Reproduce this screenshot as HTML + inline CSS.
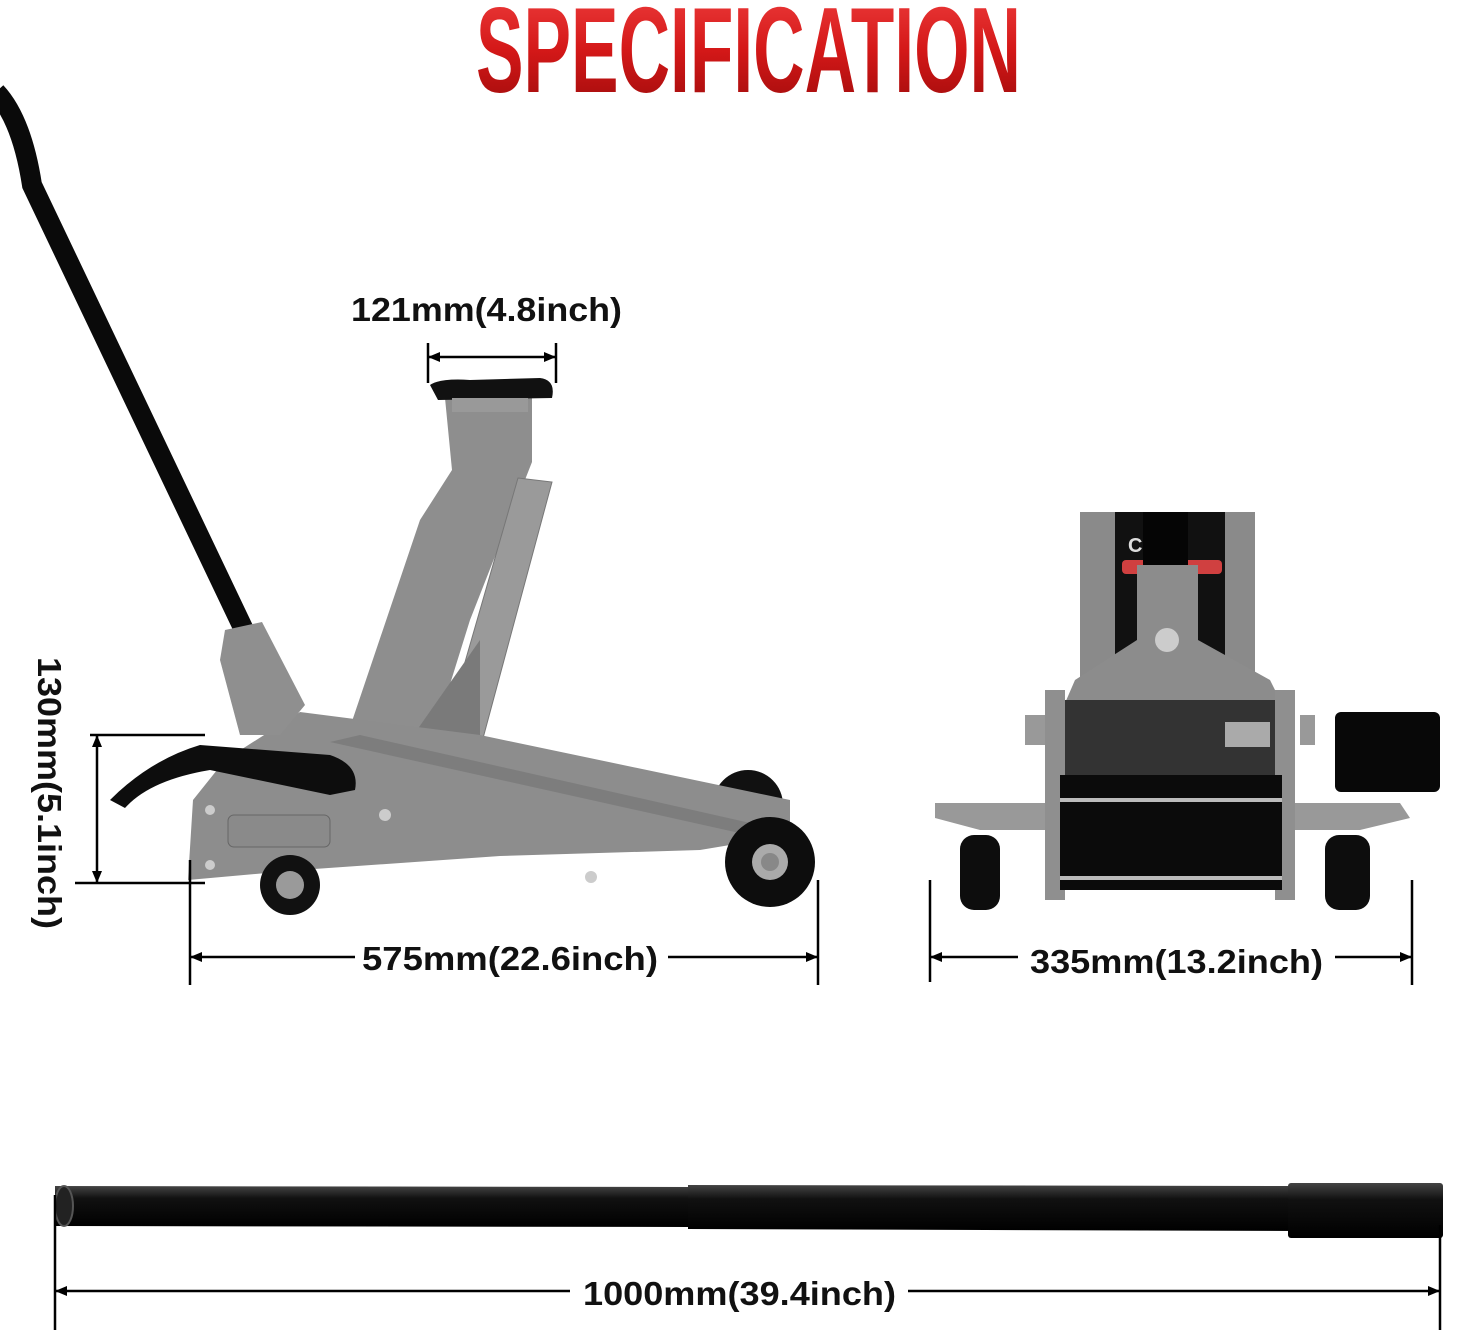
<!DOCTYPE html>
<html><head><meta charset="utf-8"><style>
html,body{margin:0;padding:0;background:#fff;}
svg{display:block;}
text{font-family:"Liberation Sans",sans-serif;font-weight:bold;}
</style></head><body>
<svg width="1469" height="1332" viewBox="0 0 1469 1332" xmlns="http://www.w3.org/2000/svg">
<defs>
<linearGradient id="red" x1="0" y1="0" x2="0" y2="1">
<stop offset="0" stop-color="#f04040"/><stop offset="0.5" stop-color="#d41818"/><stop offset="1" stop-color="#9a0a0a"/>
</linearGradient>
<linearGradient id="bar" x1="0" y1="0" x2="0" y2="1">
<stop offset="0" stop-color="#444"/><stop offset="0.3" stop-color="#111"/><stop offset="1" stop-color="#000"/>
</linearGradient>
</defs>
<rect width="1469" height="1332" fill="#fff"/>
<text x="476" y="92" font-size="122" fill="url(#red)" textLength="545" lengthAdjust="spacingAndGlyphs">SPECIFICATION</text>

<!-- side view jack -->
<path d="M-4,92 Q22,120 32,185 L245,632" stroke="#0a0a0a" stroke-width="20" fill="none"/>
<circle cx="748" cy="805" r="35" fill="#111"/>
<polygon points="445,398 532,398 532,462 470,620 432,742 345,742 420,520 452,470" fill="#8e8e8e"/>
<polygon points="518,478 552,482 482,742 442,742" fill="#9a9a9a" stroke="#777"/>
<polygon points="410,740 480,640 480,740" fill="#7a7a7a"/>
<path d="M430,385 Q440,378 470,380 L540,378 Q556,380 552,398 L438,400 Z" fill="#111"/>
<rect x="452" y="398" width="76" height="14" fill="#999"/>
<polygon points="188,880 193,800 225,760 300,712 480,735 790,800 790,835 700,850 500,856 300,870" fill="#8d8d8d"/>
<polygon points="330,742 360,735 790,832 780,842" fill="#7d7d7d"/>
<polygon points="225,630 262,622 305,705 280,735 240,735 220,660" fill="#8f8f8f"/>
<path d="M110,800 Q150,760 200,745 L330,755 Q360,765 355,790 L330,795 L210,770 Q150,780 125,808 Z" fill="#0d0d0d"/>
<rect x="228" y="815" width="102" height="32" rx="6" fill="#8a8a8a" stroke="#666"/>
<circle cx="290" cy="885" r="30" fill="#111"/><circle cx="290" cy="885" r="14" fill="#9a9a9a"/>
<circle cx="770" cy="862" r="45" fill="#0d0d0d"/><circle cx="770" cy="862" r="18" fill="#aaa"/><circle cx="770" cy="862" r="9" fill="#888"/>
<circle cx="385" cy="815" r="6" fill="#ccc"/><circle cx="210" cy="810" r="5" fill="#ccc"/><circle cx="210" cy="865" r="5" fill="#ccc"/><circle cx="591" cy="877" r="6" fill="#ccc"/>

<!-- front view jack -->
<rect x="1080" y="512" width="175" height="185" fill="#8a8a8a"/>
<rect x="1115" y="512" width="110" height="150" fill="#111"/>
<rect x="1122" y="560" width="100" height="14" rx="4" fill="#d04040"/>
<text x="1128" y="552" font-size="20" fill="#ddd">CE</text>
<rect x="1143" y="512" width="45" height="60" fill="#050505"/>
<polygon points="1137,565 1198,565 1198,640 1270,680 1285,710 1062,710 1075,680 1137,640" fill="#8c8c8c"/>
<circle cx="1167" cy="640" r="12" fill="#ccc"/>
<rect x="1060" y="700" width="225" height="75" fill="#333"/>
<polygon points="935,803 1400,803 1410,818 1360,830 1300,830 1050,830 980,830 935,818" fill="#999"/>
<rect x="1045" y="690" width="20" height="210" fill="#8f8f8f"/>
<rect x="1275" y="690" width="20" height="210" fill="#8f8f8f"/>
<rect x="1060" y="775" width="222" height="115" fill="#0b0b0b"/>
<rect x="1060" y="798" width="222" height="4" fill="#bbb"/>
<rect x="1060" y="876" width="222" height="4" fill="#bbb"/>
<rect x="1225" y="722" width="45" height="25" fill="#aaa"/>
<rect x="1335" y="712" width="105" height="80" rx="6" fill="#080808"/>
<rect x="960" y="835" width="40" height="75" rx="14" fill="#0d0d0d"/>
<rect x="1325" y="835" width="45" height="75" rx="14" fill="#0d0d0d"/>
<rect x="1025" y="715" width="20" height="30" fill="#999"/>
<rect x="1300" y="715" width="15" height="30" fill="#999"/>

<!-- bar -->
<path d="M55,1186 L690,1187 L690,1227 L55,1226 Z" fill="url(#bar)"/>
<path d="M688,1185 L1300,1186 L1300,1231 L688,1229 Z" fill="url(#bar)"/>
<rect x="1288" y="1183" width="155" height="55" rx="3" fill="url(#bar)"/>
<ellipse cx="64" cy="1206" rx="9" ry="20" fill="#222" stroke="#555" stroke-width="2"/>

<!-- dimensions -->
<g stroke="#000" stroke-width="2.5" fill="none">
<line x1="428" y1="357" x2="556" y2="357"/><line x1="428" y1="343" x2="428" y2="383"/><line x1="556" y1="343" x2="556" y2="383"/>
<line x1="97" y1="735" x2="97" y2="883"/><line x1="90" y1="735" x2="205" y2="735"/><line x1="75" y1="883" x2="205" y2="883"/>
<line x1="190" y1="957" x2="355" y2="957"/><line x1="668" y1="957" x2="818" y2="957"/><line x1="190" y1="860" x2="190" y2="985"/><line x1="818" y1="880" x2="818" y2="985"/>
<line x1="930" y1="957" x2="1018" y2="957"/><line x1="1335" y1="957" x2="1412" y2="957"/><line x1="930" y1="880" x2="930" y2="982"/><line x1="1412" y1="880" x2="1412" y2="985"/>
<line x1="55" y1="1291" x2="570" y2="1291"/><line x1="908" y1="1291" x2="1440" y2="1291"/><line x1="55" y1="1195" x2="55" y2="1330"/><line x1="1440" y1="1225" x2="1440" y2="1330"/>
</g>
<g fill="#000">
<polygon points="428,357 440,352 440,362"/><polygon points="556,357 544,352 544,362"/>
<polygon points="97,735 92,747 102,747"/><polygon points="97,883 92,871 102,871"/>
<polygon points="190,957 202,952 202,962"/><polygon points="818,957 806,952 806,962"/>
<polygon points="930,957 942,952 942,962"/><polygon points="1412,957 1400,952 1400,962"/>
<polygon points="55,1291 67,1286 67,1296"/><polygon points="1440,1291 1428,1286 1428,1296"/>
</g>
<text x="351" y="321" font-size="33" fill="#111" textLength="271" lengthAdjust="spacingAndGlyphs">121mm(4.8inch)</text>
<text x="362" y="970" font-size="33" fill="#111" textLength="296" lengthAdjust="spacingAndGlyphs">575mm(22.6inch)</text>
<text x="1030" y="973" font-size="33" fill="#111" textLength="293" lengthAdjust="spacingAndGlyphs">335mm(13.2inch)</text>
<text x="583" y="1305" font-size="33" fill="#111" textLength="313" lengthAdjust="spacingAndGlyphs">1000mm(39.4inch)</text>
<text transform="translate(38,657) rotate(90)" font-size="33" fill="#111" textLength="272" lengthAdjust="spacingAndGlyphs">130mm(5.1inch)</text>
</svg>
</body></html>
